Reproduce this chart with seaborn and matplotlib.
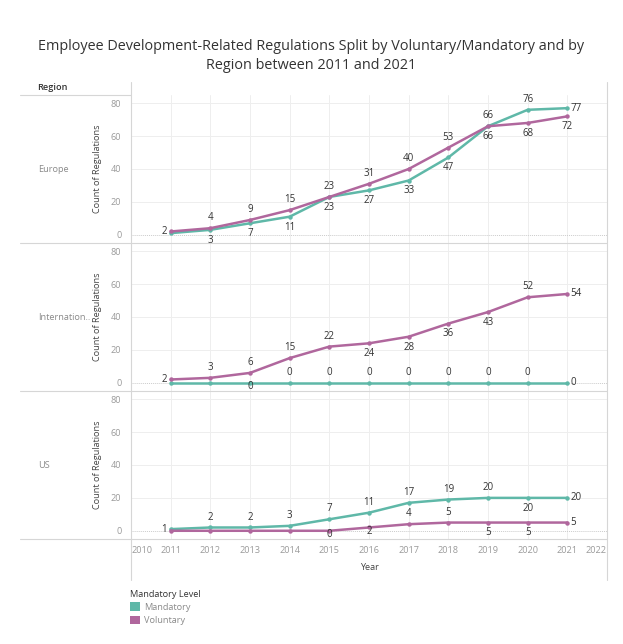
import pandas as pd
import matplotlib.pyplot as plt
import seaborn as sns
from matplotlib.lines import Line2D
from matplotlib.patches import Patch

# --- data ---
years = list(range(2011, 2022))
regions = ['Europe', 'International', 'US']
region_labels = ['Europe', 'Internation..', 'US']
levels = ['Mandatory', 'Voluntary']

europe_mandatory = [1, 3, 7, 11, 23, 27, 33, 47, 66, 76, 77]
europe_voluntary = [2, 4, 9, 15, 23, 31, 40, 53, 66, 68, 72]
intl_mandatory = [0, 0, 0, 0, 0, 0, 0, 0, 0, 0, 0]
intl_voluntary = [2, 3, 6, 15, 22, 24, 28, 36, 43, 52, 54]
us_mandatory = [1, 2, 2, 3, 7, 11, 17, 19, 20, 20, 20]
us_voluntary = [0, 0, 0, 0, 0, 2, 4, 5, 5, 5, 5]

series = {
    ('Europe', 'Mandatory'): europe_mandatory,
    ('Europe', 'Voluntary'): europe_voluntary,
    ('International', 'Mandatory'): intl_mandatory,
    ('International', 'Voluntary'): intl_voluntary,
    ('US', 'Mandatory'): us_mandatory,
    ('US', 'Voluntary'): us_voluntary,
}

# label placement (a=above, b=below, d=just below, l=left, r=right, None=hidden)
label_pos = {
    ('Europe', 'Mandatory'): [None, 'b', 'b', 'b', 'b', 'b', 'b', 'b', 'b', 'a', 'r'],
    ('Europe', 'Voluntary'): ['l', 'a', 'a', 'a', 'a', 'a', 'a', 'a', 'a', 'b', 'b'],
    ('International', 'Mandatory'): [None, None, 'd', 'a', 'a', 'a', 'a', 'a', 'a', 'a', 'r'],
    ('International', 'Voluntary'): ['l', 'a', 'a', 'a', 'a', 'b', 'b', 'b', 'b', 'a', 'r'],
    ('US', 'Mandatory'): ['l', 'a', 'a', 'a', 'a', 'a', 'a', 'a', 'a', 'b', 'r'],
    ('US', 'Voluntary'): [None, None, None, None, 'd', 'd', 'a', 'a', 'b', 'b', 'r'],
}

rows = []
for (reg, lev), vals in series.items():
    for y, v in zip(years, vals):
        rows.append({'Region': reg, 'Level': lev, 'Year': y, 'Count': v})
df = pd.DataFrame(rows)

colors = {'Mandatory': '#5fb8a8', 'Voluntary': '#b0679d'}

# --- figure ---
sns.set_style('white')
plt.rcParams['font.family'] = ['Open Sans', 'DejaVu Sans']

W, H = 623, 644
fig = plt.figure(figsize=(W / 100, H / 100), dpi=100)

def fx(px):
    return px / W

def fy(py):
    return 1 - py / H

grid_c = '#eeeeee'
sep_c = '#d6d6d6'
fs = 6.6

fig.text(0.5, fy(56), 'Employee Development-Related Regulations Split by Voluntary/Mandatory and by\nRegion between 2011 and 2021',
         ha='center', va='center', fontsize=10.4, color='#333333', linespacing=1.3)
fig.text(fx(37), fy(88), 'Region', ha='left', va='center', fontsize=fs, color='#333333', fontweight='semibold')

left, right = 131, 607
tops = [95, 243, 391]
ph = 148
offsets = {'a': ((0, 3.5), 'center', 'bottom'), 'b': ((0, -3.5), 'center', 'top'),
           'd': ((0, -2.6), 'center', 'center'),
           'l': ((-2.5, 0), 'right', 'center'), 'r': ((2.5, 0), 'left', 'center')}

for i, reg in enumerate(regions):
    top = tops[i]
    ax = fig.add_axes([fx(left), fy(top + ph), fx(right) - fx(left), ph / H])
    ax.set_facecolor('none')
    sub = df[df['Region'] == reg]
    sns.lineplot(data=sub, x='Year', y='Count', hue='Level', hue_order=levels, palette=colors,
                 marker='o', markersize=3.2, markeredgewidth=0, linewidth=1.8, ax=ax, legend=False)
    ax.set_xlim(2010, 2022)
    ax.set_ylim(-5, 85)
    ax.set_yticks([0, 20, 40, 60, 80])
    ax.set_xticks(range(2010, 2023))
    for yv in [20, 40, 60, 80]:
        ax.axhline(yv, color=grid_c, lw=0.7, zorder=0)
    for xv in range(2011, 2022):
        ax.axvline(xv, color=grid_c, lw=0.7, zorder=0)
    ax.axhline(0, color='#cccccc', lw=0.7, ls=(0, (1, 1)), zorder=0)
    for s in ax.spines.values():
        s.set_visible(False)
    ax.tick_params(axis='both', length=0, labelsize=fs, labelcolor='#9a9a9a', pad=7)
    ax.set_ylabel('Count of Regulations', fontsize=fs, color='#444444', labelpad=6)
    if i < 2:
        ax.set_xticklabels([])
        ax.set_xlabel('')
    else:
        ax.set_xlabel('Year', fontsize=fs, color='#444444', labelpad=6)
        labs = ax.get_xticklabels()
        labs[0].set_ha('left')
        labs[-1].set_ha('right')
        ax.tick_params(axis='x', pad=5)
    for lev in levels:
        vals = series[(reg, lev)]
        for x, v, p in zip(years, vals, label_pos[(reg, lev)]):
            if p is None:
                continue
            off, ha, va = offsets[p]
            ax.annotate(str(v), (x, v), xytext=off, textcoords='offset points',
                        ha=ha, va=va, fontsize=7, color='#333333', annotation_clip=False)
    fig.text(fx(38), fy(top + ph / 2), region_labels[i], ha='left', va='center', fontsize=fs, color='#8a8a8a')

# frame lines
fig.add_artist(Line2D([fx(20), fx(left)], [fy(95), fy(95)], color=sep_c, lw=0.8))
for yy in [243, 391, 539]:
    fig.add_artist(Line2D([fx(20), fx(right)], [fy(yy), fy(yy)], color=sep_c, lw=0.8))
fig.add_artist(Line2D([fx(left), fx(left)], [fy(82), fy(580)], color=sep_c, lw=0.8))
fig.add_artist(Line2D([fx(right), fx(right)], [fy(82), fy(580)], color=sep_c, lw=0.8))

handles = [Patch(facecolor=colors[l], edgecolor='none', label=l) for l in levels]
leg = fig.legend(handles=handles, loc='upper left', bbox_to_anchor=(fx(126), fy(586)), frameon=False,
                 title='Mandatory Level', fontsize=fs, title_fontsize=fs, handlelength=1.1,
                 handleheight=1.1, handletextpad=0.5, labelspacing=0.4, alignment='left', borderaxespad=0)
for t in leg.get_texts():
    t.set_color('#8a8a8a')
leg.get_title().set_color('#333333')

fig.savefig('out.png', dpi=100)
